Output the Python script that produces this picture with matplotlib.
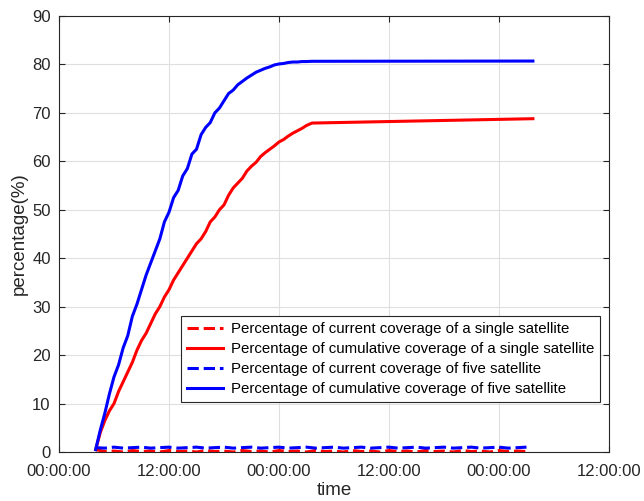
import matplotlib.pyplot as plt
from matplotlib.ticker import FixedLocator

plt.rcParams['font.family'] = ['Liberation Sans', 'DejaVu Sans']

# time in hours since the first 00:00:00 tick
t_cum = [4.0, 4.5, 5.0, 5.5, 6.0, 6.5, 7.0, 7.5, 8.0, 8.5, 9.0, 9.5, 10.0, 10.5,
         11.0, 11.5, 12.0, 12.5, 13.0, 13.5, 14.0, 14.5, 15.0, 15.5, 16.0, 16.5,
         17.0, 17.5, 18.0, 18.5, 19.0, 19.5, 20.0, 20.5, 21.0, 21.5, 22.0, 22.5,
         23.0, 23.5, 24.0, 24.5, 25.0, 25.5, 26.0, 26.5, 27.0, 27.6, 51.7]

single_cum = [0.5, 4.0, 6.5, 8.5, 10.0, 12.5, 14.5, 16.5, 18.5, 21.0, 23.0, 24.5,
              26.5, 28.5, 30.0, 32.0, 33.5, 35.5, 37.0, 38.5, 40.0, 41.5, 43.0,
              44.0, 45.5, 47.5, 48.5, 50.0, 51.0, 53.0, 54.5, 55.5, 56.5, 58.0,
              59.0, 59.8, 61.0, 61.8, 62.5, 63.2, 64.0, 64.5, 65.2, 65.8, 66.3,
              66.8, 67.4, 67.9, 68.8]

five_cum = [0.5, 4.5, 8.0, 12.0, 15.5, 18.0, 21.5, 24.0, 28.0, 30.5, 33.5, 36.5,
            39.0, 41.5, 44.0, 47.5, 49.5, 52.5, 54.0, 57.0, 58.5, 61.5, 62.5,
            65.5, 67.0, 68.0, 70.0, 71.0, 72.5, 74.0, 74.7, 75.8, 76.5, 77.2,
            77.8, 78.4, 78.8, 79.2, 79.5, 79.9, 80.1, 80.2, 80.4, 80.5, 80.5,
            80.6, 80.6, 80.65, 80.7]

t_cur = [4, 5, 6, 7, 8, 9, 10, 11, 12, 13, 14, 15, 16, 17, 18, 19, 20, 21, 22,
         23, 24, 25, 26, 27, 28, 29, 30, 31, 32, 33, 34, 35, 36, 37, 38, 39, 40,
         41, 42, 43, 44, 45, 46, 47, 48, 49, 50, 51]

single_cur = [0.5, 0.1, 0.2, 0.0, 0.3, 0.1, 0.2, 0.0, 0.3, 0.1, 0.2, 0.0, 0.3,
              0.1, 0.2, 0.0, 0.3, 0.1, 0.2, 0.0, 0.3, 0.1, 0.2, 0.0, 0.3, 0.1,
              0.2, 0.0, 0.3, 0.1, 0.2, 0.0, 0.3, 0.1, 0.2, 0.0, 0.3, 0.1, 0.2,
              0.0, 0.3, 0.1, 0.2, 0.0, 0.3, 0.1, 0.2, 0.1]

five_cur = [0.9, 0.8, 1.0, 0.8, 0.9, 1.0, 0.8, 0.9, 1.0, 0.8, 0.9, 1.0, 0.8,
            0.9, 1.0, 0.8, 0.9, 1.0, 0.8, 0.9, 1.0, 0.8, 0.9, 1.0, 0.8, 0.9,
            1.0, 0.8, 0.9, 1.0, 0.8, 0.9, 1.0, 0.8, 0.9, 1.0, 0.8, 0.9, 1.0,
            0.8, 0.9, 1.0, 0.8, 0.9, 1.0, 0.8, 0.9, 1.0]

x_ticks = [0, 12, 24, 36, 48, 60]
x_labels = ['00:00:00', '12:00:00', '00:00:00', '12:00:00', '00:00:00', '12:00:00']

labels = ['Percentage of current coverage of a single satellite',
          'Percentage of cumulative coverage of a single satellite',
          'Percentage of current coverage of five satellite',
          'Percentage of cumulative coverage of five satellite']

fig = plt.figure(figsize=(6.44, 5.01), dpi=100)
ax = fig.add_axes([59 / 644, 49 / 501, 550 / 644, 436 / 501])

ax.plot(t_cur, single_cur, c='r', ls='--', lw=2.2, label=labels[0])
ax.plot(t_cum, single_cum, c='r', lw=2.2, label=labels[1])
ax.plot(t_cur, five_cur, c='b', ls='--', lw=2.2, label=labels[2])
ax.plot(t_cum, five_cum, c='b', lw=2.2, label=labels[3])

ax.set_xlim(0, 60)
ax.set_ylim(0, 90)
ax.xaxis.set_major_locator(FixedLocator(x_ticks))
ax.set_xticklabels(x_labels)
ax.set_yticks(range(0, 91, 10))
ax.grid(True, color='#dfdfdf', lw=0.8)
ax.set_axisbelow(True)
for s in ax.spines.values():
    s.set_color('#262626')
    s.set_linewidth(0.8)
ax.tick_params(direction='in', top=True, right=True, length=4, labelsize=12,
               colors='#262626', width=0.8)
ax.tick_params(axis='x', pad=9)
ax.tick_params(axis='y', pad=6)
ax.set_xlabel('time', fontsize=13.5, color='#262626', labelpad=2)
ax.set_ylabel('percentage(%)', fontsize=13.5, color='#262626', labelpad=3)

leg = ax.legend(loc='lower left', bbox_to_anchor=(0.222, 0.115), fontsize=10.8,
                fancybox=False, framealpha=1, edgecolor='#262626',
                handlelength=2.4, borderpad=0.4, labelspacing=0.4,
                handletextpad=0.5, borderaxespad=0)
leg.get_frame().set_linewidth(0.8)

fig.savefig('out.png', dpi=100)
